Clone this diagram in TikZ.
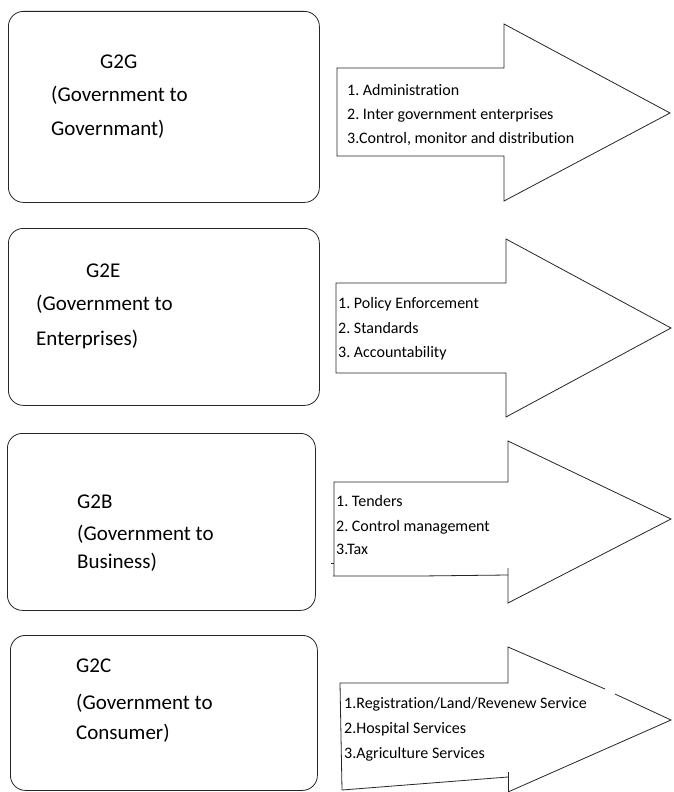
\documentclass[tikz,border=0pt]{standalone}
\usepackage{fontspec}
\setmainfont{Carlito}[Ligatures=NoCommon]
\frenchspacing
\begin{document}
\begin{tikzpicture}[x=1pt,y=-1pt,
  box/.style={draw=black!85, line width=0.8pt, rounded corners=15pt, anchor=north west, inner sep=0pt},
  big/.style={anchor=base west, inner sep=0pt, font=\fontsize{21}{25}\selectfont},
  small/.style={anchor=base west, inner sep=0pt, font=\fontsize{16}{19}\selectfont},
  arr/.style={draw=black!85, line width=0.8pt, line join=miter}]
\useasboundingbox (0,0) rectangle (673,792);
\fill[white] (0,0) rectangle (673,792);
% boxes
\node[box, minimum width=311pt, minimum height=191pt] (b1) at (8,11) {};
\node[box, minimum width=311pt, minimum height=177pt] (b2) at (8,228) {};
\node[box, minimum width=308pt, minimum height=177pt] (b3) at (7,433) {};
\node[box, minimum width=307pt, minimum height=155pt] (b4) at (10,635) {};
% box texts
\node[big] (t1a) at (100,68) {G2G};
\node[big] (t1b) at (51,101) {(Government to};
\node[big] (t1c) at (51,135) {Governmant)};
\node[big] (t2a) at (86,277) {G2E};
\node[big] (t2b) at (36,310) {(Government to};
\node[big] (t2c) at (36,345) {Enterprises)};
\node[big] (t3a) at (77,508) {G2B};
\node[big] (t3b) at (77,540) {(Government to};
\node[big] (t3c) at (77,568) {Business)};
\node[big] (t4a) at (76,672) {G2C};
\node[big] (t4b) at (76,709) {(Government to};
\node[big] (t4c) at (76,739) {Consumer)};
% arrows
\draw[arr] (337,68) -- (504,68) -- (504,24) -- (670,113) -- (504,201) -- (504,156) -- (337,156) -- cycle;
\draw[arr] (336,283) -- (506,283) -- (506,239) -- (671,328) -- (506,417) -- (506,373) -- (336,373) -- cycle;
\draw[arr] (334,576) -- (334,482) -- (508,482) -- (508,441) -- (671,519) -- (508,603) -- (508,568);
\draw[arr] (333,576) -- (420,576) -- (508,575);
\draw[arr] (331,563) -- (334,563);
\draw[arr] (342,790) -- (340,683) -- (508,683) -- (508,647) -- (605,689);
\draw[arr] (615,694) -- (671,720) -- (508,792);
\draw[arr] (342,790) -- (508,777);
\draw[arr] (508,772) -- (508,792);
% arrow texts
\node[small] (a1a) at (347,95) {1. Administration};
\node[small] (a1b) at (347,119) {2. Inter government enterprises};
\node[small] (a1c) at (347,143) {3.Control, monitor and distribution};
\node[small] (a2a) at (338,308) {1. Policy Enforcement};
\node[small] (a2b) at (338,333) {2. Standards};
\node[small] (a2c) at (338,357) {3. Accountability};
\node[small] (a3a) at (336,506) {1. Tenders};
\node[small] (a3b) at (336,531) {2. Control management};
\node[small] (a3c) at (336,554) {3.Tax};
\node[small] (a4a) at (344,708) {1.Registration/Land/Revenew Service};
\node[small] (a4b) at (344,733) {2.Hospital Services};
\node[small] (a4c) at (344,758) {3.Agriculture Services};
\end{tikzpicture}
\end{document}
